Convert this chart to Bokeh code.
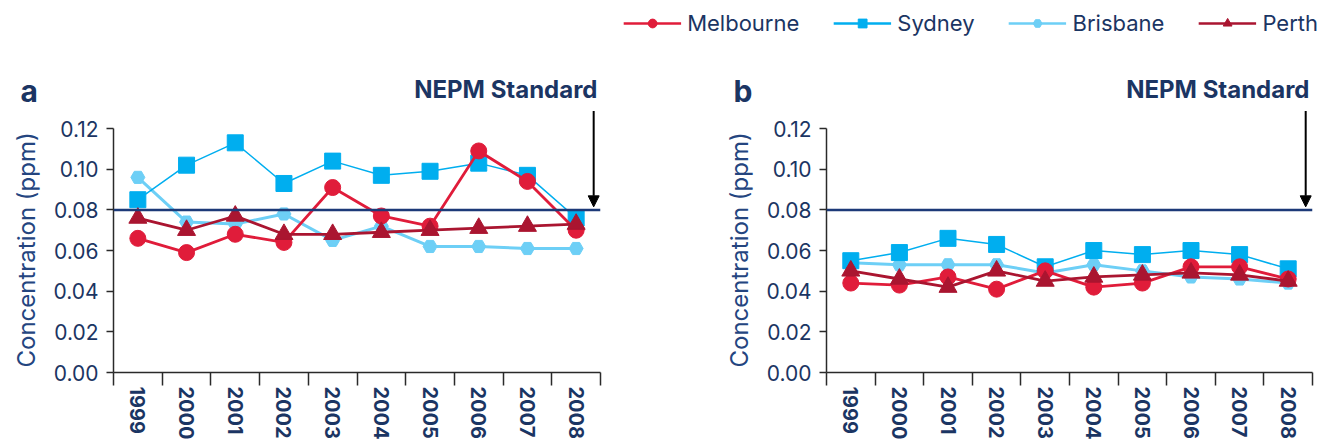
from bokeh.plotting import figure
from bokeh.models import (FixedTicker, NumeralTickFormatter, Span, Label, Arrow,
                          NormalHead, Legend, LegendItem, Range1d, Title)
from bokeh.layouts import column, row
from bokeh.embed import file_html
from bokeh.resources import INLINE

# ---------------- data ----------------
years = [1999, 2000, 2001, 2002, 2003, 2004, 2005, 2006, 2007, 2008]
cities = ["Melbourne", "Sydney", "Brisbane", "Perth"]
y_ticks = [0.00, 0.02, 0.04, 0.06, 0.08, 0.10, 0.12]
nepm_standard = 0.08
panel_letters = ["a", "b"]

melbourne_a = [0.066, 0.059, 0.068, 0.064, 0.091, 0.077, 0.072, 0.109, 0.094, 0.070]
sydney_a    = [0.085, 0.102, 0.113, 0.093, 0.104, 0.097, 0.099, 0.103, 0.097, 0.076]
brisbane_a  = [0.096, 0.074, 0.073, 0.078, 0.065, 0.072, 0.062, 0.062, 0.061, 0.061]
perth_a     = [0.076, 0.070, 0.077, 0.068, 0.068, 0.069, 0.070, 0.071, 0.072, 0.073]

melbourne_b = [0.044, 0.043, 0.047, 0.041, 0.050, 0.042, 0.044, 0.052, 0.052, 0.046]
sydney_b    = [0.055, 0.059, 0.066, 0.063, 0.052, 0.060, 0.058, 0.060, 0.058, 0.051]
brisbane_b  = [0.054, 0.053, 0.053, 0.053, 0.049, 0.053, 0.050, 0.047, 0.046, 0.044]
perth_b     = [0.050, 0.046, 0.042, 0.050, 0.045, 0.047, 0.048, 0.049, 0.048, 0.045]

# ---------------- styles ----------------
NAVY = "#1b3563"
AXLBL = "#24457f"
FONT = "Inter"
style = {
    "Melbourne": dict(color="#e01c3a", lw=2.8, marker="circle", size=16, lsize=14),
    "Sydney":    dict(color="#00aeef", lw=1.5, marker="square", size=16, lsize=14),
    "Brisbane":  dict(color="#6dcff6", lw=3.0, marker="hex", size=14, lsize=12),
    "Perth":     dict(color="#aa1530", lw=2.8, marker="triangle", size=18, lsize=16),
}
draw_order = ["Brisbane", "Sydney", "Melbourne", "Perth"]

Y_TOP = 0.1289   # top of the panel frame (room for the arrow)


def make_panel(series, width, left, right):
    p = figure(width=width, height=333, output_backend="svg", toolbar_location=None,
               x_range=Range1d(years[0] - 0.5, years[-1] + 0.5),
               y_range=Range1d(y_ticks[0], Y_TOP),
               min_border_left=left, min_border_right=right,
               min_border_top=0, min_border_bottom=71)
    p.outline_line_color = None
    p.grid.visible = False
    p.background_fill_color = None
    p.border_fill_color = None

    xa = p.xaxis[0]
    xa.ticker = FixedTicker(ticks=years,
                            minor_ticks=[y - 0.5 for y in years] + [years[-1] + 0.5])
    xa.major_tick_out = 13
    xa.major_tick_in = 0
    xa.major_tick_line_color = None
    xa.minor_tick_out = 13
    xa.minor_tick_in = 0
    xa.minor_tick_line_color = "#2a2a2a"
    xa.minor_tick_line_width = 1.5
    xa.axis_line_color = "#2a2a2a"
    xa.axis_line_width = 1.5
    xa.major_label_orientation = "vertical"
    xa.major_label_standoff = 1
    xa.major_label_text_font = FONT
    xa.major_label_text_font_style = "bold"
    xa.major_label_text_font_size = "20px"
    xa.major_label_text_color = NAVY

    ya = p.yaxis[0]
    ya.ticker = FixedTicker(ticks=y_ticks)
    ya.formatter = NumeralTickFormatter(format="0.00")
    ya.bounds = (y_ticks[0], y_ticks[-1])
    ya.major_tick_out = 7
    ya.major_tick_in = 0
    ya.minor_tick_out = 0
    ya.minor_tick_in = 0
    ya.major_tick_line_color = "#2a2a2a"
    ya.major_tick_line_width = 1.5
    ya.axis_line_color = "#2a2a2a"
    ya.axis_line_width = 1.5
    ya.major_label_standoff = 8
    ya.major_label_text_font = FONT
    ya.major_label_text_font_size = "21px"
    ya.major_label_text_color = NAVY

    p.add_layout(Title(text="Concentration (ppm)", align="left", offset=5,
                       vertical_align="top", standoff=16, text_font=FONT,
                       text_font_style="normal", text_font_size="24px",
                       text_color=AXLBL), "left")

    p.add_layout(Span(location=nepm_standard, dimension="width",
                      line_color="#1c3a78", line_width=2.5))

    for city in draw_order:
        s = style[city]
        p.line(years, series[city], line_color=s["color"], line_width=s["lw"])
        p.scatter(years, series[city], marker=s["marker"], size=s["size"],
                  fill_color=s["color"], line_color=s["color"])

    p.add_layout(Arrow(end=NormalHead(size=11, fill_color="black", line_color="black"),
                       x_start=years[-1] + 0.36, y_start=0.1286,
                       x_end=years[-1] + 0.36, y_end=0.0815,
                       line_color="black", line_width=2))
    return p


fa = make_panel({"Melbourne": melbourne_a, "Sydney": sydney_a,
                 "Brisbane": brisbane_a, "Perth": perth_a}, 710, 113, 110)
fb = make_panel({"Melbourne": melbourne_b, "Sydney": sydney_b,
                 "Brisbane": brisbane_b, "Perth": perth_b}, 608, 116, 6)

# top strip: legend, panel letters, "NEPM Standard" captions (pixel units)
lf = figure(width=1318, height=110, output_backend="svg", toolbar_location=None,
            x_range=Range1d(0, 1318), y_range=Range1d(0, 100),
            x_axis_type=None, y_axis_type=None, min_border=0, min_border_top=10)
lf.outline_line_color = None
lf.background_fill_color = None
lf.border_fill_color = None
items = []
for city in cities:
    s = style[city]
    rl = lf.line([-100, -90], [-100, -100], line_color=s["color"], line_width=2.5)
    rs = lf.scatter([-100], [-100], marker=s["marker"], size=s["lsize"],
                    fill_color=s["color"], line_color=s["color"])
    items.append(LegendItem(label=city, renderers=[rl, rs]))
leg = Legend(items=items, orientation="horizontal", location="top_right",
             border_line_color=None, background_fill_alpha=0, padding=0, margin=0,
             spacing=34, glyph_width=58, glyph_height=22, label_standoff=6,
             label_text_font=FONT, label_text_font_size="22px",
             label_text_color=NAVY, label_text_baseline="middle")
lf.add_layout(leg, "center")

for letter, lx, nx in zip(panel_letters, [20, 733], [597, 1309]):
    lf.add_layout(Label(x=lx, y=19.5, text=letter, text_align="left",
                        text_baseline="middle", text_font=FONT,
                        text_font_style="bold", text_font_size="30px", text_color=NAVY))
    lf.add_layout(Label(x=nx, y=21.5, text="NEPM Standard", text_align="right",
                        text_baseline="middle", text_font=FONT,
                        text_font_style="bold", text_font_size="24px", text_color=NAVY))

layout = column(lf, row(fa, fb, spacing=0), spacing=0)
open("out.html", "w").write(file_html(layout, INLINE))
